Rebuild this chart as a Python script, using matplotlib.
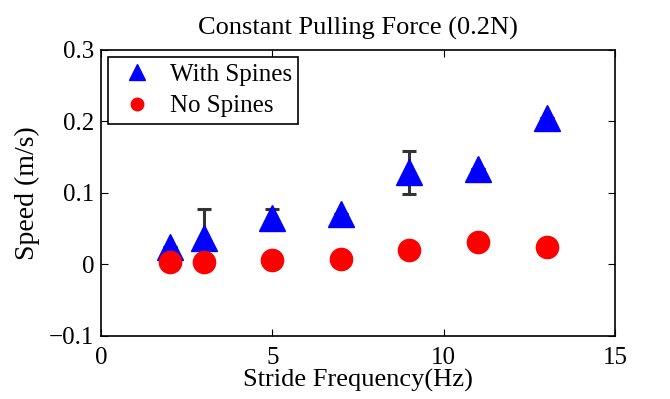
import matplotlib
matplotlib.use('Agg')
import matplotlib.pyplot as plt
from matplotlib.lines import Line2D

# Stride frequencies (Hz) and measured speeds (m/s)
freq = [2, 3, 5, 7, 9, 11, 13]
speed_spines = [0.025, 0.037, 0.065, 0.070, 0.129, 0.134, 0.205]
err_spines = [0.0, 0.040, 0.013, 0.0, 0.030, 0.0, 0.0]
speed_no_spines = [0.003, 0.003, 0.006, 0.008, 0.020, 0.031, 0.024]

plt.rcParams['font.family'] = 'Liberation Serif'

fig = plt.figure(figsize=(6.7, 3.99), dpi=100)
ax = fig.add_axes([0.1507, 0.158, 0.7673, 0.717])

# error bars first so the markers sit on top
ax.errorbar(freq, speed_spines, yerr=err_spines, fmt='none', ecolor='#333333',
            elinewidth=2.2, capsize=5, capthick=2.2, zorder=1)
ax.plot(freq, speed_spines, linestyle='none', marker='^', ms=19,
        color='#0000ff', zorder=2)
ax.plot(freq, speed_no_spines, linestyle='none', marker='o', ms=16,
        color='#ff0000', zorder=3)

ax.set_xlim(0, 15)
ax.set_ylim(-0.1, 0.3)
ax.set_xticks([0, 5, 10, 15])
ax.set_yticks([-0.1, 0, 0.1, 0.2, 0.3])
ax.set_yticklabels(['\u22120.1', '0', '0.1', '0.2', '0.3'])
ax.tick_params(direction='in', top=True, right=True, length=5, width=0.8,
               labelsize=18)
ax.tick_params(axis='x', pad=8)
ax.tick_params(axis='y', pad=5)
for s in ax.spines.values():
    s.set_linewidth(1.2)

ax.set_title('Constant Pulling Force (0.2N)', fontsize=19, pad=11)
ax.set_xlabel('Stride Frequency(Hz)', fontsize=19, labelpad=0)
ax.set_ylabel('Speed (m/s)', fontsize=20, labelpad=6)

# legend handles with smaller markers than the plotted points
handles = [
    Line2D([], [], linestyle='none', marker='^', ms=12, color='#0000ff'),
    Line2D([], [], linestyle='none', marker='o', ms=9, color='#ff0000'),
]
leg = ax.legend(handles, ['With Spines', 'No Spines'], loc='upper left',
                fontsize=18, fancybox=False, framealpha=1, edgecolor='black',
                borderaxespad=0.3, handletextpad=0.4, handlelength=1.8,
                labelspacing=0.35, borderpad=0.25)
leg.get_frame().set_linewidth(1.2)

plt.savefig('out.png', dpi=100)
